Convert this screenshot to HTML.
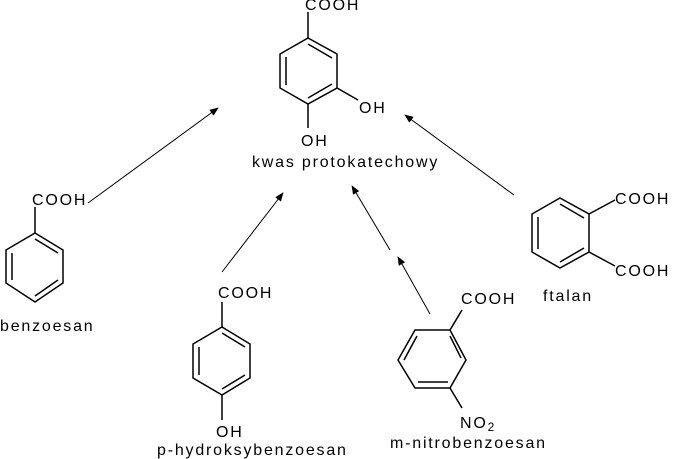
<!DOCTYPE html>
<html><head><meta charset="utf-8"><style>
html,body{margin:0;padding:0;background:#fff;}
svg{display:block;}
text{font-family:"Liberation Sans",sans-serif;font-size:16px;letter-spacing:1.8px;fill:#000;}
</style></head><body>
<svg width="675" height="459" viewBox="0 0 675 459" xmlns="http://www.w3.org/2000/svg">
<defs><marker id="a" viewBox="0 0 10 10" refX="9" refY="5" markerWidth="9" markerHeight="9" orient="auto" markerUnits="userSpaceOnUse"><path d="M0,1 L10,5 L0,9 z" fill="#000"/></marker></defs>
<g stroke="#000" stroke-width="1.5" fill="none">
<polygon points="308,38 337,54 337,88 308,104 280,88 280,54"/>
<line x1="308" y1="44" x2="332" y2="58"/><line x1="286" y1="57" x2="286" y2="85"/><line x1="308" y1="98" x2="332" y2="84"/>
<line x1="308" y1="38" x2="308" y2="12"/><line x1="337" y1="88" x2="358" y2="100"/><line x1="308" y1="104" x2="308" y2="128"/>
<polygon points="35,233 63,250 63,283 35,302 6,283 6,250"/>
<line x1="35" y1="239" x2="58" y2="253"/><line x1="12" y1="253" x2="12" y2="280"/><line x1="35" y1="296" x2="58" y2="280"/>
<line x1="35" y1="233" x2="35" y2="207"/>
<polygon points="222,327 250,344 250,378 222,395 193,378 193,344"/>
<line x1="222" y1="333" x2="245" y2="347"/><line x1="199" y1="347" x2="199" y2="375"/><line x1="222" y1="389" x2="245" y2="375"/>
<line x1="222" y1="327" x2="222" y2="302"/><line x1="222" y1="395" x2="222" y2="420"/>
<polygon points="415,330 450,330 466,360 450,388 415,388 398,360"/>
<line x1="417" y1="336" x2="404" y2="360"/><line x1="450" y1="336" x2="461" y2="358"/><line x1="418" y1="382" x2="448" y2="382"/>
<line x1="450" y1="330" x2="462" y2="310"/><line x1="450" y1="388" x2="462" y2="408"/>
<polygon points="560,198 589,214 589,252 560,268 532,252 532,214"/>
<line x1="560" y1="204" x2="584" y2="218"/><line x1="538" y1="217" x2="538" y2="249"/><line x1="560" y1="262" x2="584" y2="248"/>
<line x1="589" y1="214" x2="615" y2="200"/><line x1="589" y1="252" x2="615" y2="266"/>
</g>
<g stroke="#000" stroke-width="1" fill="none" marker-end="url(#a)">
<line x1="88" y1="203" x2="218" y2="108"/>
<line x1="222" y1="272" x2="283" y2="193"/>
<line x1="390" y1="250" x2="352" y2="186"/>
<line x1="430" y1="314" x2="398" y2="257"/>
<line x1="514" y1="195" x2="405" y2="115"/>
</g>
<text x="305" y="10">COOH</text>
<text x="359" y="113">OH</text>
<text x="301" y="146">OH</text>
<text x="252" y="167">kwas protokatechowy</text>
<text x="32" y="205">COOH</text>
<text x="0" y="331">benzoesan</text>
<text x="218" y="298">COOH</text>
<text x="216" y="437">OH</text>
<text x="157" y="455">p-hydroksybenzoesan</text>
<text x="461" y="304">COOH</text>
<text x="460" y="428">NO<tspan font-size="12" dy="3">2</tspan></text>
<text x="390" y="448">m-nitrobenzoesan</text>
<text x="615" y="204">COOH</text>
<text x="615" y="276">COOH</text>
<text x="543" y="301">ftalan</text>
</svg>
</body></html>
